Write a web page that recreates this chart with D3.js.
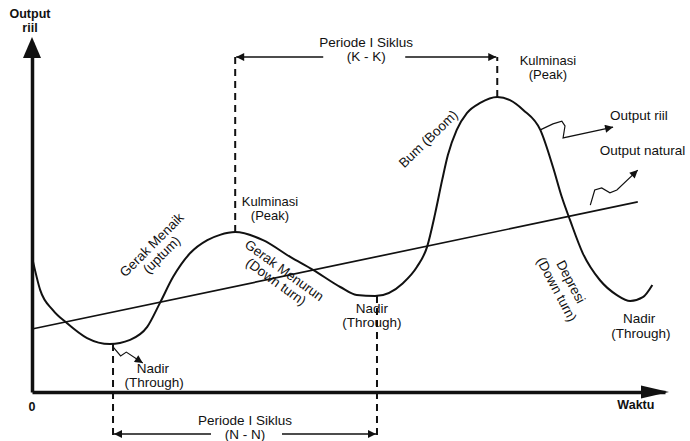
<!DOCTYPE html>
<html><head><meta charset="utf-8">
<script src="https://cdn.jsdelivr.net/npm/d3@7"></script>
<style>html,body{margin:0;padding:0;background:#fff}</style>
</head><body><svg id="c" width="690" height="441"></svg>
<script>
// ---- data (time units 0-100, output units 0-100) ----
const curveTime   = [0, 1.3, 3.3, 5.5, 8.7, 12.3, 15.5, 18.2, 20.2, 22.3, 25.0, 27.7, 29.7, 32.1, 36.5, 40.8, 44.4, 48.7, 51.3, 54.2, 58.6, 60.8, 62.4, 63.7, 64.8, 65.7, 67.1, 68.7, 70.8, 73.5, 75.5, 77.6, 80.3, 82.3, 83.7, 85.0, 87.0, 89.7, 92.4, 94.5, 96.5, 98.0];
const outputRiil  = [38.6, 29.1, 23.4, 19.7, 15.4, 13.7, 14.9, 18.6, 25.4, 32.9, 39.7, 43.4, 44.9, 45.7, 43.4, 38.6, 34.9, 30.0, 27.7, 27.4, 31.1, 35.7, 41.4, 51.1, 60.6, 67.7, 74.9, 79.7, 82.6, 84.3, 83.4, 80.6, 74.9, 64.3, 55.7, 49.1, 39.7, 32.0, 27.7, 26.0, 27.1, 30.6];
const naturalTime   = [0, 95.7];
const outputNatural = [18.0, 54.3];
const peakTime    = [32.1, 73.5];
const peakOutput  = [45.7, 84.3];
const troughTime  = [12.8, 54.5];
const troughOutput= [13.7, 27.4];
const cycleLabels = ["Periode I Siklus", "(K - K)", "(N - N)"];

const W = 690, H = 441;
const svg = d3.select("#c");
const x = d3.scaleLinear().domain([0, 100]).range([32, 665]);
const y = d3.scaleLinear().domain([0, 100]).range([392, 42]);
const FONT = "'Liberation Sans', Arial, sans-serif";
const INK = "#111";

const defs = svg.append("defs");
defs.append("marker").attr("id", "ah").attr("viewBox", "0 0 10 10")
  .attr("refX", 10).attr("refY", 5).attr("markerWidth", 11).attr("markerHeight", 8)
  .attr("markerUnits", "userSpaceOnUse").attr("orient", "auto")
  .append("path").attr("d", "M0,0L10,5L0,10Z").attr("fill", INK);

// ---- axes (no ticks) ----
const xAxis = svg.append("g").attr("transform", `translate(0,${y(0)})`)
  .call(d3.axisBottom(x).tickValues([]).tickSizeOuter(0));
const yAxis = svg.append("g").attr("transform", `translate(${x(0)},0)`)
  .call(d3.axisLeft(y).tickValues([]).tickSizeOuter(0));
[xAxis, yAxis].forEach(g => g.select(".domain").attr("stroke", INK).attr("stroke-width", 3.5));
svg.append("path").attr("fill", INK)
  .attr("d", `M${x(0)},${y(100) - 5}L${x(0) - 9},${y(100) + 16}L${x(0) + 9},${y(100) + 16}Z`);
svg.append("path").attr("fill", INK)
  .attr("d", `M${x(100) + 4},${y(0)}L${x(100) - 24},${y(0) - 6.5}L${x(100) - 24},${y(0) + 6.5}Z`);

// ---- lines ----
const line = d3.line().x(d => x(d[0])).y(d => y(d[1]));
svg.append("path")
  .datum(naturalTime.map((t, i) => [t, outputNatural[i]]))
  .attr("d", line).attr("fill", "none").attr("stroke", INK).attr("stroke-width", 1.7);
svg.append("path")
  .datum(curveTime.map((t, i) => [t, outputRiil[i]]))
  .attr("d", line.curve(d3.curveMonotoneX)).attr("fill", "none").attr("stroke", INK).attr("stroke-width", 2);
line.curve(d3.curveLinear);

// ---- dashed guides ----
const topLevel = 95.7, botLevel = -13.7, botBracket = -12;
peakTime.forEach((t, i) => {
  svg.append("line").attr("x1", x(t)).attr("x2", x(t)).attr("y1", y(peakOutput[i])).attr("y2", y(topLevel))
    .attr("stroke", INK).attr("stroke-width", 2).attr("stroke-dasharray", "7,5");
});
troughTime.forEach((t, i) => {
  svg.append("line").attr("x1", x(t)).attr("x2", x(t)).attr("y1", y(troughOutput[i])).attr("y2", y(botLevel))
    .attr("stroke", INK).attr("stroke-width", 2).attr("stroke-dasharray", "7,5");
});

// ---- brackets ----
function bracket(t0, t1, level, gapL, gapR) {
  const cx = (x(t0) + x(t1)) / 2;
  svg.append("line").attr("x1", cx - gapL).attr("x2", x(t0) + 1).attr("y1", y(level)).attr("y2", y(level))
    .attr("stroke", INK).attr("stroke-width", 1.6).attr("marker-end", "url(#ah)");
  svg.append("line").attr("x1", cx + gapR).attr("x2", x(t1) - 1).attr("y1", y(level)).attr("y2", y(level))
    .attr("stroke", INK).attr("stroke-width", 1.6).attr("marker-end", "url(#ah)");
  return cx;
}
const topMid = bracket(peakTime[0], peakTime[1], topLevel, 43, 39);
const botMid = bracket(troughTime[0], troughTime[1], botBracket, 34, 37);

function txt(s, px, py, opts = {}) {
  return svg.append("text").attr("x", px).attr("y", py).text(s)
    .attr("font-family", FONT).attr("font-size", opts.size || 13.5)
    .attr("font-weight", opts.bold ? "bold" : "normal")
    .attr("text-anchor", opts.anchor || "middle").attr("fill", INK);
}
txt(cycleLabels[0], topMid, y(topLevel) - 10);
txt(cycleLabels[1], topMid, y(topLevel) + 3.5);
txt(cycleLabels[0], botMid, y(botBracket) - 9);
txt(cycleLabels[2], botMid, y(botBracket) + 5);

// ---- axis titles ----
txt("Output", x(0) - 2, 18, {bold: true, size: 12.5});
txt("riil", x(0) - 2, 32, {bold: true, size: 12.5});
txt("Waktu", x(95.4), y(0) + 17, {bold: true, size: 12.5});
txt("0", x(0), y(0) + 19, {bold: true, size: 12.5});

// ---- annotations ----
const labels = [
  {s: "Kulminasi", t: 37.6, v: 53.1, size: 13}, {s: "(Peak)", t: 37.6, v: 49.1, size: 13},
  {s: "Kulminasi", t: 81.5, v: 93.4, size: 13}, {s: "(Peak)", t: 81.5, v: 89.4, size: 13},
  {s: "Nadir", t: 19.1, v: 5.4}, {s: "(Through)", t: 19.3, v: 1.4},
  {s: "Nadir", t: 53.7, v: 22.6}, {s: "(Through)", t: 53.7, v: 18.6},
  {s: "Nadir", t: 95.9, v: 19.7}, {s: "(Through)", t: 96.2, v: 15.4},
  {s: "Output riil", t: 91.3, v: 77.7, anchor: "start"},
  {s: "Output natural", t: 89.7, v: 67.7, anchor: "start"}
];
labels.forEach(l => txt(l.s, x(l.t), y(l.v), {anchor: l.anchor, size: l.size}));

const rotated = [
  {lines: ["Gerak Menaik", "(uptum)"], t: 19.7, v: 40.6, rot: -45, gap: 14},
  {lines: ["Gerak Menurun", "(Down turn)"], t: 39.2, v: 33.1, rot: 36, gap: 14},
  {lines: ["Bum (Boom)"], t: 62.6, v: 72.3, rot: -44, gap: 14},
  {lines: ["Depresi", "(Down turn)"], t: 84.0, v: 30.4, rot: 62, gap: 16}
];
rotated.forEach(r => {
  const g = svg.append("g").attr("transform", `translate(${x(r.t)},${y(r.v)}) rotate(${r.rot})`);
  const n = r.lines.length;
  r.lines.forEach((s, i) => {
    g.append("text").attr("x", 0).attr("y", (i - (n - 1) / 2) * r.gap + 4.5).text(s)
      .attr("font-family", FONT).attr("font-size", 13.5).attr("text-anchor", "middle").attr("fill", INK);
  });
});

// squiggle pointers
const pointers = [
  {t: [80.3, 82.3, 83.7, 84.2, 83.9, 91.8], v: [74.9, 76.6, 77.4, 76.0, 72.6, 75.7]},
  {t: [88.2, 88.9, 90.0, 91.3, 92.4, 95.7], v: [53.4, 57.7, 58.3, 56.9, 57.7, 63.4]},
  {t: [12.8, 14.0, 14.9, 17.5], v: [12.9, 10.3, 11.4, 8.3]}
];
pointers.forEach(p => {
  svg.append("path").datum(p.t.map((t, i) => [t, p.v[i]]))
    .attr("d", line).attr("fill", "none").attr("stroke", INK).attr("stroke-width", 1.2)
    .attr("marker-end", "url(#ah)");
});
</script></body></html>
